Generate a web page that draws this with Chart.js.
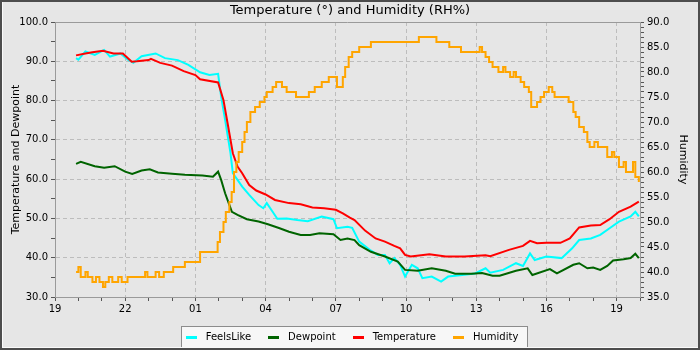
<!doctype html>
<html lang="en">

<head>
    <meta charset="utf-8">
    <title>Temperature and Humidity</title>
    <script src="https://cdn.jsdelivr.net/npm/chart.js@4.4.1/dist/chart.umd.min.js"></script>
    <style>
        body {
            margin: 0;
            background: #e6e6e6;
        }
    </style>
</head>

<body>
    <canvas id="myChart" width="700" height="350"></canvas>
</body>
<script>

    // hours since midnight of the first day (25 = 01 next day)
    const feelsHours = [19.9, 20.0, 20.3, 20.7, 21.1, 21.35, 21.8, 22.1, 22.35, 22.7, 23.3, 23.7, 24.25, 24.7, 25.2, 25.6, 25.97, 26.1, 26.27, 26.5,
        26.6, 26.8, 27.0, 27.3, 27.7, 27.9, 28.05, 28.3, 28.5, 28.9, 29.35, 29.8, 30.4, 30.9, 31.05, 31.5, 31.7, 32.0, 32.45, 32.8,
        33.1, 33.3, 33.5, 33.75, 33.96, 34.25, 34.5, 34.7, 35.1, 35.5, 35.8, 36.4, 36.95, 37.4, 37.6, 38.15, 38.7, 39.0, 39.3, 39.5,
        40.0, 40.65, 41.1, 41.4, 41.9, 42.3, 42.7, 43.1, 43.6, 43.8, 43.95];
    const feelsValues = [90.8, 90.4, 92.5, 91.6, 92.9, 91.2, 92.0, 90.5, 89.6, 91.3, 92.0, 90.8, 90.3, 89.1, 87.2, 86.5, 86.8, 81.0, 75.1, 66.6,
        61.5, 59.8, 58.1, 56.0, 53.4, 52.6, 53.9, 51.7, 49.9, 50.0, 49.6, 49.3, 50.5, 49.8, 47.5, 47.9, 47.6, 44.1, 42.0, 40.7,
        40.7, 38.6, 39.9, 38.2, 35.2, 38.2, 37.3, 34.8, 35.2, 33.9, 35.2, 35.6, 36.0, 37.3, 36.2, 36.9, 38.6, 37.9, 41.1, 39.4,
        40.3, 39.9, 42.4, 44.5, 44.9, 45.8, 47.5, 49.2, 50.5, 51.7, 50.5];

    const dewHours = [19.9, 20.1, 20.7, 21.1, 21.55, 22.0, 22.3, 22.7, 23.05, 23.4, 24.0, 24.55, 25.3, 25.75, 25.97, 26.1, 26.27, 26.4, 26.56, 26.8,
        27.2, 27.7, 28.1, 28.6, 29.0, 29.5, 29.9, 30.3, 30.9, 31.2, 31.5, 31.8, 32.0, 32.5, 33.1, 33.65, 33.96, 34.5, 35.1, 35.7,
        36.1, 36.8, 37.25, 37.7, 38.0, 38.7, 39.2, 39.4, 40.15, 40.45, 41.15, 41.4, 41.75, 42.0, 42.3, 42.6, 42.85, 43.3, 43.6, 43.8,
        43.95];
    const dewValues = [63.9, 64.4, 63.3, 62.9, 63.3, 61.9, 61.3, 62.2, 62.5, 61.7, 61.4, 61.1, 60.9, 60.6, 61.9, 59.8, 56.4, 54.3, 51.7, 50.9,
        49.8, 49.2, 48.5, 47.5, 46.6, 45.8, 45.8, 46.2, 46.0, 44.5, 44.9, 44.5, 43.2, 41.5, 40.3, 39.0, 36.9, 36.7, 37.3, 36.7,
        35.9, 35.9, 36.1, 35.4, 35.4, 36.7, 37.3, 35.6, 37.1, 36.0, 38.2, 38.6, 37.3, 37.5, 36.9, 37.9, 39.3, 39.6, 39.9, 41.0,
        39.9];

    const tempHours = [19.9, 20.3, 20.6, 21.05, 21.5, 21.9, 22.28, 22.5, 23.0, 23.1, 23.5, 24.0, 24.5, 25.0, 25.2, 25.97, 26.2, 26.4, 26.6, 26.8,
        27.0, 27.3, 27.6, 28.0, 28.4, 29.0, 29.5, 30.0, 30.5, 31.0, 31.3, 31.6, 31.8, 32.25, 32.7, 33.1, 33.5, 33.75, 33.96, 34.2,
        35.0, 35.7, 36.5, 37.4, 37.6, 38.4, 39.0, 39.3, 39.6, 40.0, 40.6, 41.0, 41.4, 41.9, 42.3, 42.7, 43.1, 43.6, 43.95];
    const tempValues = [91.5, 92.0, 92.3, 92.7, 92.0, 92.0, 89.9, 90.0, 90.3, 90.6, 89.6, 88.9, 87.5, 86.5, 85.4, 84.6, 80.1, 73.4, 66.6, 63.2,
        61.5, 58.5, 57.1, 56.1, 54.7, 53.9, 53.6, 52.8, 52.6, 52.2, 51.3, 50.2, 49.6, 46.9, 44.9, 44.1, 43.0, 42.4, 40.7, 40.3,
        40.9, 40.3, 40.3, 40.6, 40.4, 42.0, 43.0, 44.3, 43.7, 43.8, 43.8, 44.9, 47.7, 48.2, 48.3, 49.8, 51.7, 53.0, 54.3];

    // humidity moves in whole steps, each value holds until the next hour entry
    const humHours = [19.9, 20.0, 20.1, 20.3, 20.4, 20.6, 20.75, 20.9, 21.05, 21.15, 21.3, 21.45, 21.7, 21.85, 22.1, 22.85, 22.95, 23.3, 23.45, 23.65,
        24.05, 24.55, 25.2, 25.95, 26.05, 26.2, 26.3, 26.45, 26.55, 26.65, 26.75, 26.85, 27.0, 27.1, 27.2, 27.35, 27.55, 27.75, 27.95, 28.05,
        28.3, 28.45, 28.7, 28.9, 29.3, 29.85, 30.1, 30.4, 30.7, 31.05, 31.3, 31.4, 31.55, 31.7, 32.0, 32.5, 34.55, 35.3, 35.85, 36.35,
        37.15, 37.25, 37.4, 37.55, 37.7, 37.95, 38.15, 38.25, 38.45, 38.6, 38.7, 38.9, 39.05, 39.25, 39.35, 39.6, 39.75, 39.9, 40.1, 40.25,
        40.35, 40.95, 41.15, 41.25, 41.4, 41.6, 41.75, 41.85, 42.05, 42.2, 42.45, 42.6, 42.8, 42.9, 43.1, 43.3, 43.4, 43.7, 43.8, 43.95];
    const humValues = [40, 41, 39, 40, 39, 38, 39, 38, 37, 38, 39, 38, 39, 38, 39, 40, 39, 40, 39, 40,
        41, 42, 44, 46, 48, 50, 52, 54, 56, 60, 62, 64, 66, 68, 70, 72, 73, 74, 75, 76,
        77, 78, 77, 76, 75, 76, 77, 78, 79, 77, 79, 81, 83, 84, 85, 86, 87, 86, 85, 84,
        85, 84, 83, 82, 81, 80, 81, 80, 79, 80, 79, 78, 77, 76, 73, 74, 75, 76, 77, 76,
        75, 74, 72, 71, 69, 68, 66, 65, 66, 65, 65, 63, 64, 63, 61, 62, 60, 62, 59, 58];

    const seriesNames = ["FeelsLike", "Dewpoint", "Temperature", "Humidity"];
    const seriesColors = ["#00ffff", "#006400", "#ff0000", "#ffa500"];

    const xStart = 19, xEnd = 44;   // 19:00 to 20:00 next day
    const leftMin = 30, leftMax = 100;
    const rightMin = 35, rightMax = 90;

    let toPoints = (hours, values) => hours.map((h, i) => ({ x: h, y: values[i] }));

    let hourLabel = (v) => ((v - xStart) % 3 === 0) ? String(v % 24).padStart(2, "0") : "";

    // plot box, from the picture
    const plotLeft = 55, plotRight = 640, plotBottom = 297;

    // short thick dash used as legend marker
    let legendMarker = (color) => {
        let c = document.createElement("canvas");
        c.width = 11;
        c.height = 3;
        let g = c.getContext("2d");
        g.fillStyle = color;
        g.fillRect(0, 0, 11, 3);
        return c;
    };

    let frame = {
        id: "frame",
        beforeDraw: (chart) => {
            let ctx = chart.ctx;
            ctx.save();
            ctx.fillStyle = "#e6e6e6";
            ctx.fillRect(0, 0, chart.width, chart.height);

            // box behind the legend
            let boxes = chart.legend.legendHitBoxes;
            if (boxes && boxes.length) {
                let first = boxes[0], last = boxes[boxes.length - 1];
                let cy = first.top + first.height / 2;
                let x1 = Math.round(first.left - 1) + 0.5;
                let x2 = Math.round(last.left + last.width + 9) + 0.5;
                ctx.fillStyle = "#f7f7f7";
                ctx.fillRect(x1, Math.round(cy - 11) + 0.5, x2 - x1, 22);
                ctx.strokeStyle = "#8c8c8c";
                ctx.lineWidth = 1;
                ctx.strokeRect(x1, Math.round(cy - 11) + 0.5, x2 - x1, 22);
            }
            ctx.restore();
        },
        afterDraw: (chart) => {
            let ctx = chart.ctx;
            let a = chart.chartArea;
            ctx.save();
            ctx.strokeStyle = "#9a9a9a";
            ctx.lineWidth = 1;
            ctx.beginPath();
            ctx.moveTo(a.left, Math.round(a.top) + 0.5);
            ctx.lineTo(a.right, Math.round(a.top) + 0.5);
            ctx.stroke();

            // outer border
            ctx.strokeStyle = "#4d4d4d";
            ctx.lineWidth = 2;
            ctx.strokeRect(1, 1, chart.width - 2, chart.height - 2);
            ctx.strokeStyle = "#fafafa";
            ctx.lineWidth = 1;
            ctx.beginPath();
            ctx.moveTo(2.5, 2);
            ctx.lineTo(2.5, chart.height - 2.5);
            ctx.lineTo(chart.width - 2, chart.height - 2.5);
            ctx.stroke();
            ctx.restore();
        }
    };

    Chart.defaults.font.family = "'DejaVu Sans', sans-serif";
    Chart.defaults.font.size = 10;
    Chart.defaults.color = "#000";

    let ctx = document.getElementById("myChart");

    let datasets = [
        toPoints(feelsHours, feelsValues),
        toPoints(dewHours, dewValues),
        toPoints(tempHours, tempValues),
        toPoints(humHours, humValues)
    ].map((pts, i) => ({
        label: seriesNames[i],
        data: pts,
        borderColor: seriesColors[i],
        backgroundColor: seriesColors[i],
        borderWidth: 2,
        pointRadius: 0,
        fill: false,
        tension: 0,
        stepped: i === 3 ? "before" : false,
        yAxisID: i === 3 ? "y1" : "y",
        order: 4 - i
    }));

    let myChart = new Chart(ctx, {
        type: "line",
        data: { datasets: datasets },
        plugins: [frame],
        options: {
            responsive: false,
            animation: false,
            devicePixelRatio: 1,
            layout: { padding: { left: 3, right: 3, top: 0, bottom: -2 } },
            plugins: {
                tooltip: { enabled: false },
                title: {
                    display: true,
                    text: "Temperature (°) and Humidity (RH%)",
                    color: "#000",
                    font: { size: 13, weight: "normal" },
                    padding: { top: 3, bottom: 3.4 }
                },
                legend: {
                    position: "bottom",
                    labels: {
                        color: "#000",
                        font: { size: 10 },
                        usePointStyle: true,
                        pointStyleWidth: 19,
                        padding: 13,
                        sort: (a, b) => a.datasetIndex - b.datasetIndex,
                        generateLabels: (chart) =>
                            Chart.defaults.plugins.legend.labels.generateLabels(chart)
                                .map(l => Object.assign(l, { pointStyle: legendMarker(seriesColors[l.datasetIndex]) }))
                    }
                }
            },
            scales: {
                x: {
                    type: "linear",
                    min: xStart,
                    max: xEnd,
                    ticks: { stepSize: 1, autoSkip: false, maxRotation: 0, padding: 2, callback: hourLabel },
                    grid: {
                        color: (c) => (c.tick && (c.tick.value - xStart) % 3 === 0) ? "#bdbdbd" : "rgba(0,0,0,0)",
                        tickColor: "#555",
                        tickLength: 4,
                        tickBorderDash: []
                    },
                    border: { color: "#9a9a9a", dash: [4, 3] },
                    afterFit: (scale) => {
                        scale.height = (scale.chart.height + 2 - scale.chart.legend.height) - plotBottom;
                    }
                },
                y: {
                    position: "left",
                    min: leftMin,
                    max: leftMax,
                    ticks: { stepSize: 5, autoSkip: false, padding: 3, callback: (v) => v % 10 === 0 ? v.toFixed(1) : "" },
                    grid: {
                        color: (c) => (c.tick && c.tick.value % 10 === 0) ? "#bdbdbd" : "rgba(0,0,0,0)",
                        tickColor: "#555",
                        tickLength: 4,
                        tickBorderDash: []
                    },
                    border: { color: "#9a9a9a", dash: [4, 3] },
                    title: { display: true, text: "Temperature and Dewpoint", font: { size: 11 }, padding: { top: 7, bottom: 0 } },
                    afterFit: (scale) => { scale.width = plotLeft - 3; }
                },
                y1: {
                    position: "right",
                    min: rightMin,
                    max: rightMax,
                    ticks: { stepSize: 1, autoSkip: false, padding: 3, callback: (v) => v % 5 === 0 ? v.toFixed(1) : "" },
                    grid: { drawOnChartArea: false, tickColor: "#555", tickLength: 4 },
                    border: { color: "#9a9a9a" },
                    title: { display: true, text: "Humidity", font: { size: 11 }, padding: { top: 8, bottom: 0 } },
                    afterFit: (scale) => { scale.width = 700 - 3 - plotRight; }
                }
            }
        }
    });
</script>

</html>
